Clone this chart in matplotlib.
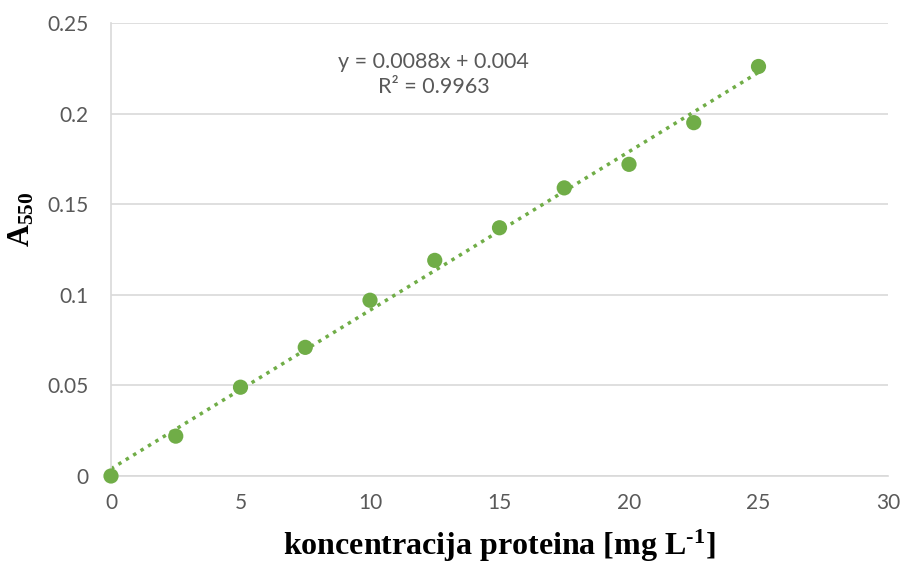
import numpy as np
import matplotlib
matplotlib.use("Agg")
import matplotlib.pyplot as plt

plt.rcParams["mathtext.fontset"] = "custom"
plt.rcParams["mathtext.rm"] = "Liberation Serif:bold"
plt.rcParams["mathtext.bf"] = "Liberation Serif:bold"
plt.rcParams["mathtext.it"] = "Liberation Serif:bold"

conc = [0, 2.5, 5, 7.5, 10, 12.5, 15, 17.5, 20, 22.5, 25]
absorb = [0.0, 0.022, 0.049, 0.071, 0.097, 0.119, 0.137, 0.159, 0.172, 0.195, 0.226]
xticks = [0, 5, 10, 15, 20, 25, 30]
yticks = [0, 0.05, 0.1, 0.15, 0.2, 0.25]
ytick_labels = ["0", "0.05", "0.1", "0.15", "0.2", "0.25"]
eq_text = "y = 0.0088x + 0.004\nR² = 0.9963"

green = "#70AD47"
gray_txt = "#595959"
grid_c = "#D9D9D9"

fig = plt.figure(figsize=(9.06, 5.67), dpi=100)
ax = fig.add_axes([111/906, (567-476)/567, (888-111)/906, (476-23)/567])

ax.scatter(conc, absorb, s=120, color=green, zorder=3, edgecolors="none", clip_on=False)
slope, intercept = np.polyfit(conc, absorb, 1)
xl = np.array([conc[0], conc[-1]])
ax.plot(xl, slope*xl + intercept, linestyle=(0, (1, 1.5)), color=green, lw=2.5, zorder=2)

ax.set_xlim(0, 30)
ax.set_ylim(0, 0.25)
ax.set_xticks(xticks)
ax.set_yticks(yticks)
ax.set_yticklabels(ytick_labels)
ax.yaxis.grid(True, color=grid_c, lw=1.2)
ax.set_axisbelow(True)
for s in ["top", "right"]:
    ax.spines[s].set_visible(False)
for s in ["left", "bottom"]:
    ax.spines[s].set_color(grid_c)
    ax.spines[s].set_linewidth(1.2)
ax.tick_params(axis="y", length=0, labelsize=15, labelcolor=gray_txt, pad=16)
ax.tick_params(axis="x", length=0, labelsize=15, labelcolor=gray_txt, pad=12)
for lab in ax.get_xticklabels() + ax.get_yticklabels():
    lab.set_family("Lato")

ax.text(12.45, 0.2215, eq_text, ha="center", va="center", fontsize=15.5,
        color=gray_txt, family="Lato", linespacing=1.3)

ax.set_xlabel("koncentracija proteina [mg L$^{\\mathrm{\\text{-}1}}$]", family="Liberation Serif",
              fontweight="bold", fontsize=23, labelpad=11)
ax.set_ylabel("A$_{\\mathrm{550}}$", family="Liberation Serif", fontweight="bold",
              fontsize=22)
ax.yaxis.set_label_coords(-0.0965, 0.567)
fig.savefig("out.png", dpi=100)
